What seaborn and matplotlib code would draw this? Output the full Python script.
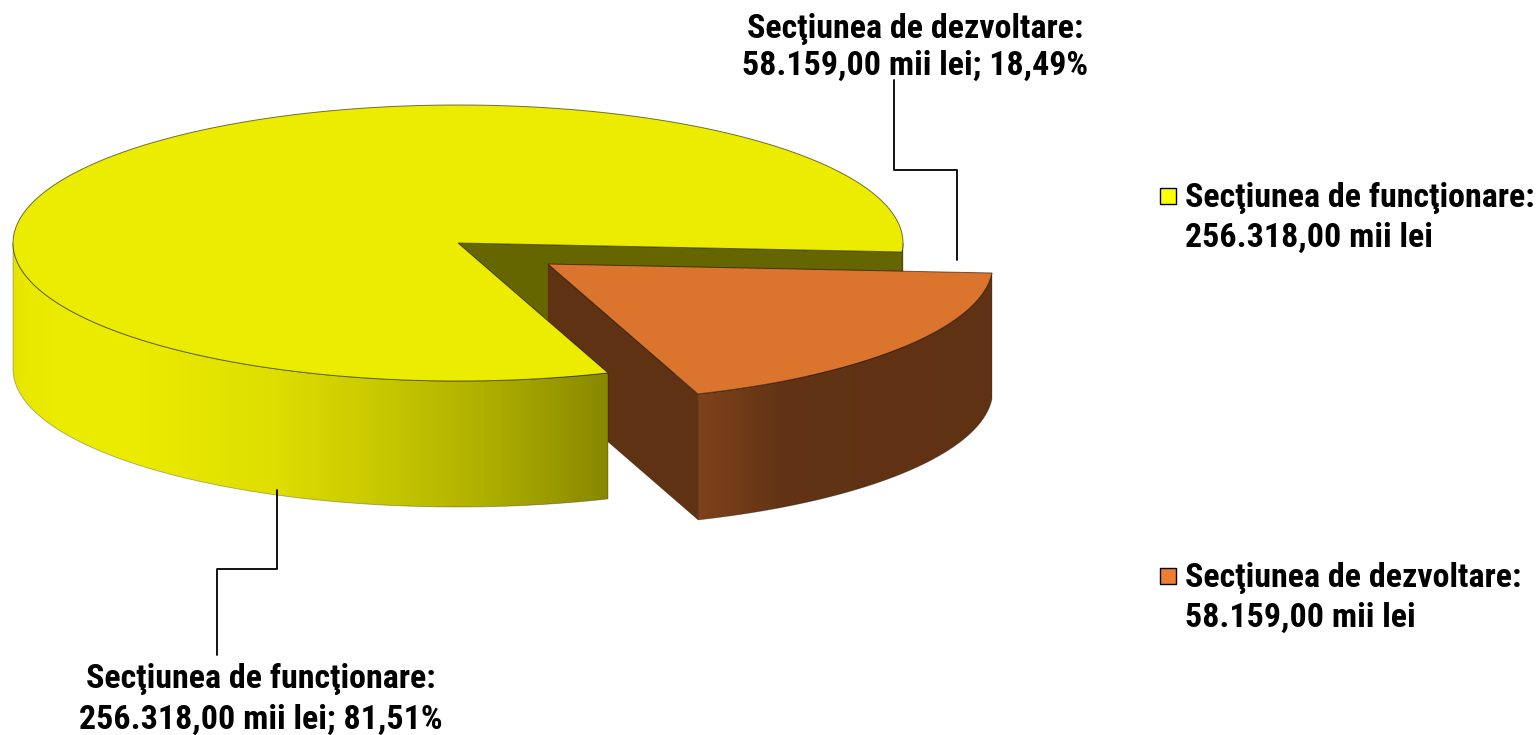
"""3D-style pie of the budget split between the two budget sections."""

import matplotlib

matplotlib.use("Agg")

import matplotlib.pyplot as plt
import numpy as np
import seaborn as sns
from matplotlib import font_manager
from matplotlib.patches import Polygon, Rectangle


CATEGORIES = ["Secţiunea de funcţionare", "Secţiunea de dezvoltare"]
VALUES = [256318.00, 58159.00]
UNIT = "mii lei"

BASE_COLORS = ["#FFFF00", "#ED7D31"]
EXPLODE = [0.0, 0.253]

# pie geometry in pixel coordinates
CENTER = (458, 243)
RX, RY, DEPTH = 445, 138, 126
START_ANGLE = -70.3  # first slice starts here and runs clockwise

# light falling on each face, relative to the base colour
TOP_LIGHT = 0.925
CUT_FACE_LIGHT = 0.40
LIGHT_PHI = [-180, -153, -137, -114, -100, -87, -70, -58, 0]
LIGHT_VAL = [0.89, 0.925, 0.925, 0.87, 0.785, 0.69, 0.53, 0.41, 0.40]

LABEL_POS = [(261, 688, 41), (915, 38, 37)]
LEADERS = [
    [(277, 490), (277, 569), (217, 569), (217, 655)],
    [(957, 260), (957, 170), (894, 170), (894, 80)],
]
LEGEND_Y = [207, 587]
FONT_SIZE = 24.5


def ro_number(value, decimals=2):
    text = f"{value:,.{decimals}f}"
    return text.replace(",", "#").replace(".", ",").replace("#", ".")


def rim(cx, cy, phis, drop=0.0):
    rad = np.radians(phis)
    return np.column_stack([cx + RX * np.cos(rad), cy - RY * np.sin(rad) + drop])


def shade(color, factor):
    rgb = np.array(matplotlib.colors.to_rgb(color))
    return np.clip(rgb * factor, 0, 1)


def main() -> None:
    sns.set_theme(style="white")
    available = {f.name for f in font_manager.fontManager.ttflist}
    font = next(
        (n for n in ["Liberation Sans Narrow", "Arial Narrow", "Roboto Condensed",
                     "PT Sans Narrow", "Liberation Sans"] if n in available),
        "DejaVu Sans",
    )
    plt.rcParams["font.family"] = [font, "DejaVu Sans"]

    palette = sns.color_palette(BASE_COLORS)
    values = np.array(VALUES)
    shares = values / values.sum()
    spans = shares * 360
    starts = START_ANGLE - np.concatenate([[0], np.cumsum(spans)[:-1]])
    ends = starts - spans

    fig = plt.figure(figsize=(15.4, 7.35), dpi=100)
    ax = fig.add_axes([0, 0, 1, 1])

    slices = []
    for i, color in enumerate(palette):
        mid = np.radians((starts[i] + ends[i]) / 2)
        cx = CENTER[0] + EXPLODE[i] * RX * np.cos(mid)
        cy = CENTER[1] - EXPLODE[i] * RY * np.sin(mid)
        slices.append((cx, cy, starts[i], ends[i], color))
    big, small = slices

    def draw_cut_faces(cx, cy, s, e, color, z):
        for ang, visible in ((s, np.cos(np.radians(s)) < 0),
                             (e, np.cos(np.radians(e)) > 0)):
            if not visible:
                continue
            p = rim(cx, cy, [ang])[0]
            face = [(cx, cy), p, (p[0], p[1] + DEPTH), (cx, cy + DEPTH)]
            ax.add_patch(Polygon(face, closed=True,
                                 facecolor=shade(color, CUT_FACE_LIGHT),
                                 edgecolor="none", zorder=z))

    def draw_side(cx, cy, s, e, color, z, z_back=None):
        phis = np.linspace(s, e, 1200)
        front = np.sin(np.radians(phis)) < 0
        xs = np.linspace(cx - RX, cx + RX, 600)
        cols = -np.degrees(np.arccos(np.clip((xs - cx) / RX, -1, 1)))
        light = np.interp(cols, LIGHT_PHI, LIGHT_VAL)
        row = np.array([shade(color, f) for f in light])[None, :, :]
        idx = np.flatnonzero(np.diff(np.concatenate([[0], front.astype(int), [0]])))
        for a, b in zip(idx[::2], idx[1::2]):
            run = phis[a:b]
            if len(run) < 2:
                continue
            top_pts = rim(cx, cy, run)
            layer = z
            # part of the rim that sits behind the exploded slice
            if z_back is not None and top_pts[:, 0].mean() > small[0]:
                layer = z_back
            outline = np.vstack([top_pts, rim(cx, cy, run[::-1], DEPTH)])
            clip = Polygon(outline, closed=True, facecolor="none",
                           edgecolor=(0, 0, 0, 0.3), linewidth=0.6,
                           zorder=layer + 0.1)
            ax.add_patch(clip)
            img = ax.imshow(row, extent=(cx - RX, cx + RX, cy + RY + DEPTH, cy - RY),
                            aspect="auto", interpolation="bilinear", zorder=layer)
            img.set_clip_path(clip)

    def draw_top(cx, cy, s, e, color, z):
        phis = np.linspace(s, e, 600)
        top = np.vstack([[cx, cy], rim(cx, cy, phis)])
        ax.add_patch(Polygon(top, closed=True, facecolor=shade(color, TOP_LIGHT),
                             edgecolor=(0, 0, 0, 0.55), linewidth=0.7, zorder=z))

    # painter's order: back of the big slice, then the exploded slice, then the front
    draw_cut_faces(*big, z=1)
    draw_cut_faces(*small, z=2)
    draw_side(*small, z=2.2)
    draw_top(*small, z=2.5)
    draw_side(*big, z=3, z_back=1.2)
    draw_top(*big, z=3.5)

    ax.set_xlim(0, 1540)
    ax.set_ylim(735, 0)
    ax.set_axis_off()

    text_kw = dict(fontsize=FONT_SIZE, fontweight="bold", color="black")
    for i, cat in enumerate(CATEGORIES):
        label = f"{cat}:\n{ro_number(values[i])} {UNIT}; {ro_number(shares[i] * 100)}%"
        x, y, step = LABEL_POS[i]
        for k, line in enumerate(label.split("\n")):
            ax.text(x, y + k * step, line, ha="center", va="baseline", zorder=5, **text_kw)
        xs, ys = zip(*LEADERS[i])
        ax.plot(xs, ys, color="black", linewidth=1.3, zorder=4)

        entry = f"{cat}:\n{ro_number(values[i])} {UNIT}"
        yb = LEGEND_Y[i]
        ax.add_patch(Rectangle((1160, yb - 19), 16, 16, facecolor=palette[i],
                               edgecolor="black", linewidth=1.0, zorder=5))
        for k, line in enumerate(entry.split("\n")):
            ax.text(1185, yb + k * 40, line, ha="left", va="baseline", zorder=5, **text_kw)

    fig.savefig("out.png", dpi=100)
    plt.close(fig)


if __name__ == "__main__":
    main()
